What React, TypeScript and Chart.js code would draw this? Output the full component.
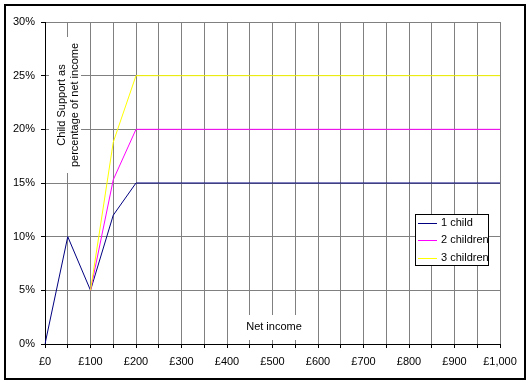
import { useEffect, useRef } from 'react';
import { Chart, registerables } from 'chart.js';

Chart.register(...registerables);

const incomeLabels = [
  '£0', '£50', '£100', '£150', '£200', '£250', '£300', '£350', '£400', '£450', '£500',
  '£550', '£600', '£650', '£700', '£750', '£800', '£850', '£900', '£950', '£1,000',
];
const oneChild = [0, 10, 5, 12, 15, 15, 15, 15, 15, 15, 15, 15, 15, 15, 15, 15, 15, 15, 15, 15, 15];
const twoChildren = [null, null, 5, 15.3, 20, 20, 20, 20, 20, 20, 20, 20, 20, 20, 20, 20, 20, 20, 20, 20, 20];
const threeChildren = [null, null, 5, 18.8, 25, 25, 25, 25, 25, 25, 25, 25, 25, 25, 25, 25, 25, 25, 25, 25, 25];
const seriesNames = ['1 child', '2 children', '3 children'];
const seriesColors = ['#000080', '#FF00FF', '#FFFF00'];
const yMin = 0;
const yMax = 30;
const yStep = 5;
const yTitleLines = ['Child Support as', 'percentage of net income'];
const xTitle = 'Net income';

const FONT_FAMILY = "'Liberation Sans', Arial, sans-serif";
const FONT = `11px ${FONT_FAMILY}`;

const decorPlugin = {
  id: 'decor',
  beforeDatasetsDraw(chart: any) {
    const ctx = chart.ctx as CanvasRenderingContext2D;
    const a = chart.chartArea;
    ctx.save();
    // text box backgrounds
    ctx.fillStyle = '#ffffff';
    ctx.fillRect(a.left + 4, a.top + 15, 32, 136);
    ctx.fillRect(a.left + 198, a.bottom - 29, 63, 25);
    ctx.fillStyle = '#000000';
    ctx.font = FONT;
    ctx.textAlign = 'center';
    ctx.textBaseline = 'middle';
    ctx.fillText(xTitle, a.left + 229, a.bottom - 17);
    ctx.translate(a.left + 23.5, a.top + 83);
    ctx.rotate(-Math.PI / 2);
    ctx.fillText(yTitleLines[0], 0, -6.5);
    ctx.fillText(yTitleLines[1], 0, 6.5);
    ctx.restore();
  },
  afterDraw(chart: any) {
    const ctx = chart.ctx as CanvasRenderingContext2D;
    const a = chart.chartArea;
    ctx.save();
    // legend
    const lx = a.left + 370;
    const ly = a.top + 192;
    ctx.fillStyle = '#ffffff';
    ctx.fillRect(lx, ly, 73, 51);
    ctx.strokeStyle = '#000000';
    ctx.lineWidth = 1;
    ctx.strokeRect(lx + 0.5, ly + 0.5, 73, 51);
    ctx.font = FONT;
    ctx.textAlign = 'left';
    ctx.textBaseline = 'middle';
    chart.data.datasets.forEach((ds: any, i: number) => {
      const y = ly + 8.5 + i * 17.7;
      ctx.strokeStyle = ds.borderColor;
      ctx.beginPath();
      ctx.moveTo(lx + 3, Math.round(y) + 0.5);
      ctx.lineTo(lx + 22, Math.round(y) + 0.5);
      ctx.stroke();
      ctx.fillStyle = '#000000';
      ctx.fillText(ds.label, lx + 26, y);
    });
    // outer border
    ctx.strokeStyle = '#000000';
    ctx.lineWidth = 2;
    ctx.strokeRect(5, 5, 520, 374);
    ctx.restore();
  },
};

export default function App() {
  const ref = useRef<HTMLCanvasElement | null>(null);

  useEffect(() => {
    if (!ref.current) return;
    const series = [oneChild, twoChildren, threeChildren];
    const chart = new Chart(ref.current, {
      type: 'line',
      data: {
        labels: incomeLabels,
        datasets: series.map((d, i) => ({
          label: seriesNames[i],
          data: d,
          borderColor: seriesColors[i],
          backgroundColor: seriesColors[i],
          borderWidth: 1,
          pointRadius: 0,
          pointHoverRadius: 0,
          fill: false,
          tension: 0,
          spanGaps: false,
          order: series.length - i,
        })),
      },
      options: {
        responsive: false,
        animation: false,
        devicePixelRatio: 1,
        events: [],
        layout: { padding: { left: 0, top: 22, right: 31, bottom: 0 } },
        plugins: {
          legend: { display: false },
          title: { display: false },
          tooltip: { enabled: false },
        },
        scales: {
          x: {
            type: 'category',
            offset: false,
            afterFit(scale: any) {
              scale.height = 40;
            },
            grid: {
              color: '#808080',
              lineWidth: 1,
              tickLength: 4,
              tickColor: '#000000',
              offset: false,
            },
            border: { color: '#000000', width: 1 },
            ticks: {
              autoSkip: false,
              maxRotation: 0,
              minRotation: 0,
              padding: 7,
              color: '#000000',
              font: { family: FONT_FAMILY, size: 11 },
              callback(this: any, value: any, index: number) {
                return index % 2 === 0 ? this.getLabelForValue(value) : '';
              },
            },
          },
          y: {
            min: yMin,
            max: yMax,
            afterFit(scale: any) {
              scale.width = 45;
            },
            grid: {
              color: '#808080',
              lineWidth: 1,
              tickLength: 4,
              tickColor: '#000000',
            },
            border: { color: '#000000', width: 1 },
            ticks: {
              stepSize: yStep,
              padding: 6,
              color: '#000000',
              font: { family: FONT_FAMILY, size: 11 },
              callback: (v: any) => `${v}%`,
            },
          },
        },
      },
      plugins: [decorPlugin],
    });
    return () => chart.destroy();
  }, []);

  return (
    <div style={{ position: 'fixed', left: 0, top: 0, width: 531, height: 384, background: '#ffffff' }}>
      <canvas ref={ref} width={531} height={384} style={{ display: 'block', width: 531, height: 384 }} />
    </div>
  );
}
